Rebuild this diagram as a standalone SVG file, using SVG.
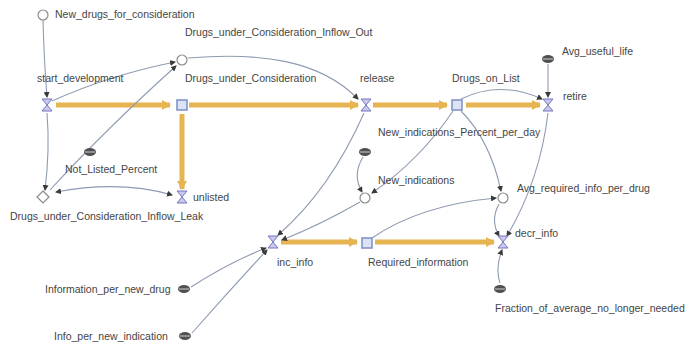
<svg xmlns="http://www.w3.org/2000/svg" width="687" height="349" viewBox="0 0 687 349">
<style>
.lbl{font-family:"Liberation Sans",Arial,sans-serif;font-size:10.5px;fill:#454545}
.flow{fill:none;stroke:#e6b450;stroke-width:5}
.link{fill:none;stroke:#8f9bb2;stroke-width:1.1}
.valve{fill:#c9c9ef;stroke:#7575bb;stroke-width:1}
.stock{fill:#dbe3f5;stroke:#8394c8;stroke-width:1.6}
.aux{fill:#fff;stroke:#8a8a8a;stroke-width:1.2}
.par{fill:#505050}
.parl{stroke:#d0d0d0;stroke-width:1}
</style>
<defs>
<marker id="fa" markerUnits="userSpaceOnUse" markerWidth="10" markerHeight="10" refX="8" refY="5" orient="auto"><path d="M0,0 L9,5 L0,10 Z" fill="#e6b450"/></marker>
<marker id="la" markerUnits="userSpaceOnUse" markerWidth="6" markerHeight="6" refX="5" refY="3" orient="auto-start-reverse"><path d="M0,0 L6,3 L0,6 Z" fill="#3a3a3a"/></marker>
<g id="valveShape"><path class="valve" d="M-5,-6 H5 L0,0 Z M-5,6 H5 L0,0 Z"/></g>
</defs>
<g id="flows">
<path class="flow" d="M56,105 H170" marker-end="url(#fa)"/>
<path class="flow" d="M189,105 H358" marker-end="url(#fa)"/>
<path class="flow" d="M373,105 H447" marker-end="url(#fa)"/>
<path class="flow" d="M466,105 H540" marker-end="url(#fa)"/>
<path class="flow" d="M182,114 V189" marker-end="url(#fa)"/>
<path class="flow" d="M281,242 H357" marker-end="url(#fa)"/>
<path class="flow" d="M375,242 H494" marker-end="url(#fa)"/>
</g>
<g id="connectors">
<path class="link" d="M43,20 Q44,60 47,97" marker-end="url(#la)"/>
<path class="link" d="M52,101 Q110,75 175,62" marker-end="url(#la)"/>
<path class="link" d="M47,113 Q50,150 45,190" marker-end="url(#la)"/>
<path class="link" d="M50,190 Q105,130 176,66" marker-end="url(#la)"/>
<path class="link" d="M56,192 Q120,180 172,195" marker-start="url(#la)" marker-end="url(#la)"/>
<path class="link" d="M188,58 C260,52 320,60 358,99" marker-end="url(#la)"/>
<path class="link" d="M461,99 Q500,80 542,99" marker-end="url(#la)"/>
<path class="link" d="M548,64 L548,97" marker-end="url(#la)"/>
<path class="link" d="M453,111 Q420,160 372,193" marker-end="url(#la)"/>
<path class="link" d="M363,157 Q352,175 362,192" marker-end="url(#la)"/>
<path class="link" d="M461,111 Q490,140 501,191" marker-end="url(#la)"/>
<path class="link" d="M372,238 Q420,205 496,198" marker-end="url(#la)"/>
<path class="link" d="M499,204 Q490,220 499,236" marker-end="url(#la)"/>
<path class="link" d="M548,113 Q540,180 507,236" marker-end="url(#la)"/>
<path class="link" d="M500,283 Q495,268 502,250" marker-end="url(#la)"/>
<path class="link" d="M364,113 Q330,190 278,235" marker-end="url(#la)"/>
<path class="link" d="M360,202 Q320,225 282,240" marker-end="url(#la)"/>
<path class="link" d="M191,287 Q230,262 266,248" marker-end="url(#la)"/>
<path class="link" d="M192,333 Q230,290 267,250" marker-end="url(#la)"/>
</g>
<g id="New_drugs_for_consideration"><circle class="aux" cx="43" cy="15" r="5"/><text class="lbl" x="55" y="18">New_drugs_for_consideration</text></g>
<g id="Drugs_under_Consideration_Inflow_Out"><circle class="aux" cx="182" cy="60" r="5"/><text class="lbl" x="185" y="36">Drugs_under_Consideration_Inflow_Out</text></g>
<g id="start_development"><use href="#valveShape" x="47" y="105"/><text class="lbl" x="37" y="82">start_development</text></g>
<g id="Drugs_under_Consideration"><rect class="stock" x="177" y="100" width="10" height="10"/><text class="lbl" x="185" y="82">Drugs_under_Consideration</text></g>
<g id="release"><use href="#valveShape" x="366" y="105"/><text class="lbl" x="360" y="82">release</text></g>
<g id="Drugs_on_List"><rect class="stock" x="452" y="100" width="10" height="10"/><text class="lbl" x="452" y="82">Drugs_on_List</text></g>
<g id="Avg_useful_life"><ellipse class="par" cx="548" cy="59" rx="6" ry="4"/><line class="parl" x1="543" y1="59" x2="553" y2="59"/><text class="lbl" x="562" y="55">Avg_useful_life</text></g>
<g id="retire"><use href="#valveShape" x="548" y="105"/><text class="lbl" x="563" y="100">retire</text></g>
<g id="Not_Listed_Percent"><ellipse class="par" cx="90" cy="152" rx="6" ry="4"/><line class="parl" x1="85" y1="152" x2="95" y2="152"/><text class="lbl" x="65" y="173">Not_Listed_Percent</text></g>
<g id="Drugs_under_Consideration_Inflow_Leak"><path class="aux" d="M43,191 L49,197 L43,203 L37,197 Z"/><text class="lbl" x="10" y="220">Drugs_under_Consideration_Inflow_Leak</text></g>
<g id="unlisted"><use href="#valveShape" x="182" y="197"/><text class="lbl" x="193" y="201">unlisted</text></g>
<g id="New_indications_Percent_per_day"><ellipse class="par" cx="365" cy="152" rx="6" ry="4"/><line class="parl" x1="360" y1="152" x2="370" y2="152"/><text class="lbl" x="378" y="136">New_indications_Percent_per_day</text></g>
<g id="New_indications"><circle class="aux" cx="365" cy="198" r="5"/><text class="lbl" x="378" y="184">New_indications</text></g>
<g id="Avg_required_info_per_drug"><circle class="aux" cx="503" cy="198" r="5"/><text class="lbl" x="517" y="192">Avg_required_info_per_drug</text></g>
<g id="inc_info"><use href="#valveShape" x="273" y="242"/><text class="lbl" x="277" y="266">inc_info</text></g>
<g id="Required_information"><rect class="stock" x="362" y="238" width="10" height="10"/><text class="lbl" x="368" y="266">Required_information</text></g>
<g id="decr_info"><use href="#valveShape" x="503" y="242"/><text class="lbl" x="515" y="237">decr_info</text></g>
<g id="Information_per_new_drug"><ellipse class="par" cx="184" cy="289" rx="6" ry="4"/><line class="parl" x1="179" y1="289" x2="189" y2="289"/><text class="lbl" x="45" y="293">Information_per_new_drug</text></g>
<g id="Info_per_new_indication"><ellipse class="par" cx="185" cy="336" rx="6" ry="4"/><line class="parl" x1="180" y1="336" x2="190" y2="336"/><text class="lbl" x="54" y="340">Info_per_new_indication</text></g>
<g id="Fraction_of_average_no_longer_needed"><ellipse class="par" cx="500" cy="289" rx="6" ry="4"/><line class="parl" x1="495" y1="289" x2="505" y2="289"/><text class="lbl" x="495" y="312">Fraction_of_average_no_longer_needed</text></g>
</svg>
